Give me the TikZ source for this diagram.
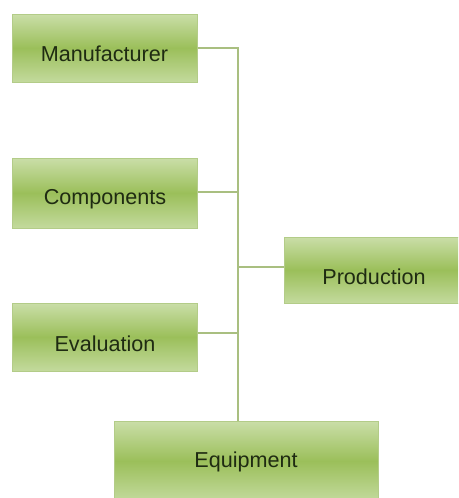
\documentclass[tikz,border=0pt]{standalone}
\usepackage{fontspec}
\setmainfont{Liberation Sans}
\definecolor{boxtop}{HTML}{CADEA8}
\definecolor{boxmid}{HTML}{9BBF5A}
\definecolor{boxbot}{HTML}{C3DA9D}
\definecolor{boxedge}{HTML}{B3CC88}
\definecolor{linkc}{HTML}{A9BF80}
\definecolor{txt}{HTML}{1F2B12}
\begin{document}
\begin{tikzpicture}[x=1pt,y=-1pt,
  greenbox/.style={draw=boxedge, line width=1pt, top color=boxtop, bottom color=boxbot,
    middle color=boxmid, rectangle, inner sep=0pt},
  boxtext/.style 2 args={label={[font=\fontsize{21.6}{24}\selectfont, text=txt, yshift=-#2pt]center:#1}},
  link/.style={draw=linkc, line width=1.8pt}]
\clip (0,0) rectangle (458,498);
\fill[white] (0,0) rectangle (458,498);
% boxes
\node[greenbox, minimum width=185pt, minimum height=68pt, boxtext={Manufacturer}{6}] (man) at (104.5,48) {};
\node[greenbox, minimum width=185pt, minimum height=70pt, boxtext={Components}{6}] (comp) at (105,193) {};
\node[greenbox, minimum width=180pt, minimum height=66pt, boxtext={Production}{7}] (prod) at (374,270) {};
\node[greenbox, minimum width=185pt, minimum height=68pt, boxtext={Evaluation}{7}] (eval) at (105,337) {};
\node[greenbox, minimum width=264pt, minimum height=80pt, boxtext={Equipment}{1}] (equip) at (246,461) {};
% connectors
\coordinate (trunk) at (238,48);
\draw[link] (man.east |- trunk) -- (trunk) -- (trunk |- equip.north);
\draw[link] (comp.east) ++(0,-1) -- (trunk |- 0,192);
\draw[link] (eval.east) ++(0,-4) -- (trunk |- 0,333);
\draw[link] (prod.west) ++(0,-3) -- (trunk |- 0,267);
\end{tikzpicture}
\end{document}
